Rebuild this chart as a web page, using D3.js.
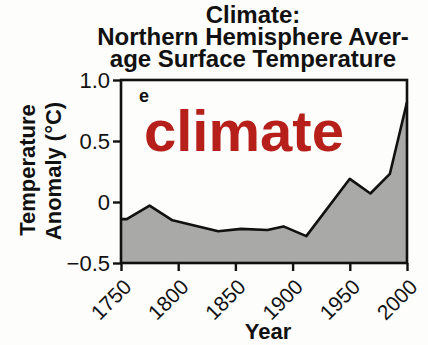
<!DOCTYPE html>
<html>
<head>
<meta charset="utf-8">
<script src="https://cdn.jsdelivr.net/npm/d3@7"></script>
<style>
  body { margin: 0; background: #fdfdfb; }
  svg { display: block; font-family: "Liberation Sans", Arial, Helvetica, sans-serif; }
</style>
</head>
<body>
<svg id="chart" width="428" height="345"></svg>
<script>

var years = [1750, 1755, 1775, 1795, 1835, 1855, 1878, 1892, 1912, 1950, 1968, 1985, 2000];
var anomaly = [-0.14, -0.14, -0.03, -0.15, -0.24, -0.22, -0.23, -0.2, -0.28, 0.19, 0.07, 0.23, 0.82];
var xTicks = [1750, 1800, 1850, 1900, 1950, 2000];
var yTicks = [-0.5, 0, 0.5, 1.0];
var titleLines = ["Climate:", "Northern Hemisphere Aver-", "age Surface Temperature"];

var svg = d3.select("#chart");
var margin = {left: 121, right: 21, top: 80, bottom: 82};
var w = 428 - margin.left - margin.right;
var h = 345 - margin.top - margin.bottom;

var data = years.map(function(y, i) { return {year: y, value: anomaly[i]}; });

var xScale = d3.scaleLinear().domain([1750, 2000]).range([0, w]);
var yScale = d3.scaleLinear().domain([-0.5, 1.0]).range([h, 0]);

var g = svg.append("g")
  .attr("transform", "translate(" + margin.left + "," + margin.top + ")");

// filled area under the curve
var area = d3.area()
  .x(function(d) { return xScale(d.year); })
  .y0(h)
  .y1(function(d) { return yScale(d.value); });

g.append("path")
  .datum(data)
  .attr("d", area)
  .attr("fill", "#a9a9a7");

var line = d3.line()
  .x(function(d) { return xScale(d.year); })
  .y(function(d) { return yScale(d.value); });

g.append("path")
  .datum(data)
  .attr("d", line)
  .attr("fill", "none")
  .attr("stroke", "#111")
  .attr("stroke-width", 2.6)
  .attr("stroke-linejoin", "round");

// frame
g.append("rect")
  .attr("x", 0).attr("y", 0)
  .attr("width", w).attr("height", h)
  .attr("fill", "none")
  .attr("stroke", "#111")
  .attr("stroke-width", 2.6);

// y axis
var yAxis = g.append("g")
  .call(d3.axisLeft(yScale).tickValues(yTicks).tickSize(8).tickPadding(3)
    .tickFormat(function(d) { return d === 0 ? "0" : d3.format(".1f")(d); }));
yAxis.select(".domain").remove();
yAxis.selectAll(".tick line").attr("stroke", "#111").attr("stroke-width", 2.4);
yAxis.selectAll(".tick text")
  .attr("fill", "#111")
  .style("font-size", "22px")
  .style("font-family", "Liberation Sans, Arial, sans-serif");

// x axis
var xAxis = g.append("g")
  .attr("transform", "translate(0," + h + ")")
  .call(d3.axisBottom(xScale).tickValues(xTicks).tickSize(8).tickFormat(d3.format("d")));
xAxis.select(".domain").remove();
xAxis.selectAll(".tick line").attr("stroke", "#111").attr("stroke-width", 2.4);
xAxis.selectAll(".tick text")
  .attr("fill", "#111")
  .style("font-size", "21px")
  .style("font-family", "Liberation Sans, Arial, sans-serif")
  .attr("text-anchor", "end")
  .attr("y", 0)
  .attr("dy", "0.35em")
  .attr("transform", "translate(6,20) rotate(-45)");

// panel letter
g.append("text")
  .attr("x", 18).attr("y", 22)
  .attr("font-size", 18).attr("font-weight", "bold")
  .attr("fill", "#111")
  .text("e");

// red watermark word
g.append("text")
  .attr("x", 23).attr("y", 71)
  .attr("font-size", 58).attr("font-weight", "bold")
  .attr("fill", "#b71f1a")
  .text("climate");

// title
svg.append("g").selectAll("text")
  .data(titleLines)
  .enter()
  .append("text")
  .attr("x", 253)
  .attr("y", function(d, i) { return 23 + i * 22; })
  .attr("text-anchor", "middle")
  .attr("font-size", 24).attr("font-weight", "bold")
  .attr("fill", "#111")
  .text(function(d) { return d; });

// axis titles
svg.append("text")
  .attr("x", 268).attr("y", 339)
  .attr("text-anchor", "middle")
  .attr("font-size", 22).attr("font-weight", "bold")
  .attr("fill", "#111")
  .text("Year");

svg.append("text")
  .attr("transform", "translate(35,170) rotate(-90)")
  .attr("text-anchor", "middle")
  .attr("font-size", 22).attr("font-weight", "bold")
  .attr("fill", "#111")
  .text("Temperature");

svg.append("text")
  .attr("transform", "translate(61,171) rotate(-90)")
  .attr("text-anchor", "middle")
  .attr("font-size", 22).attr("font-weight", "bold")
  .attr("fill", "#111")
  .text("Anomaly (°C)");

</script>
</body>
</html>
